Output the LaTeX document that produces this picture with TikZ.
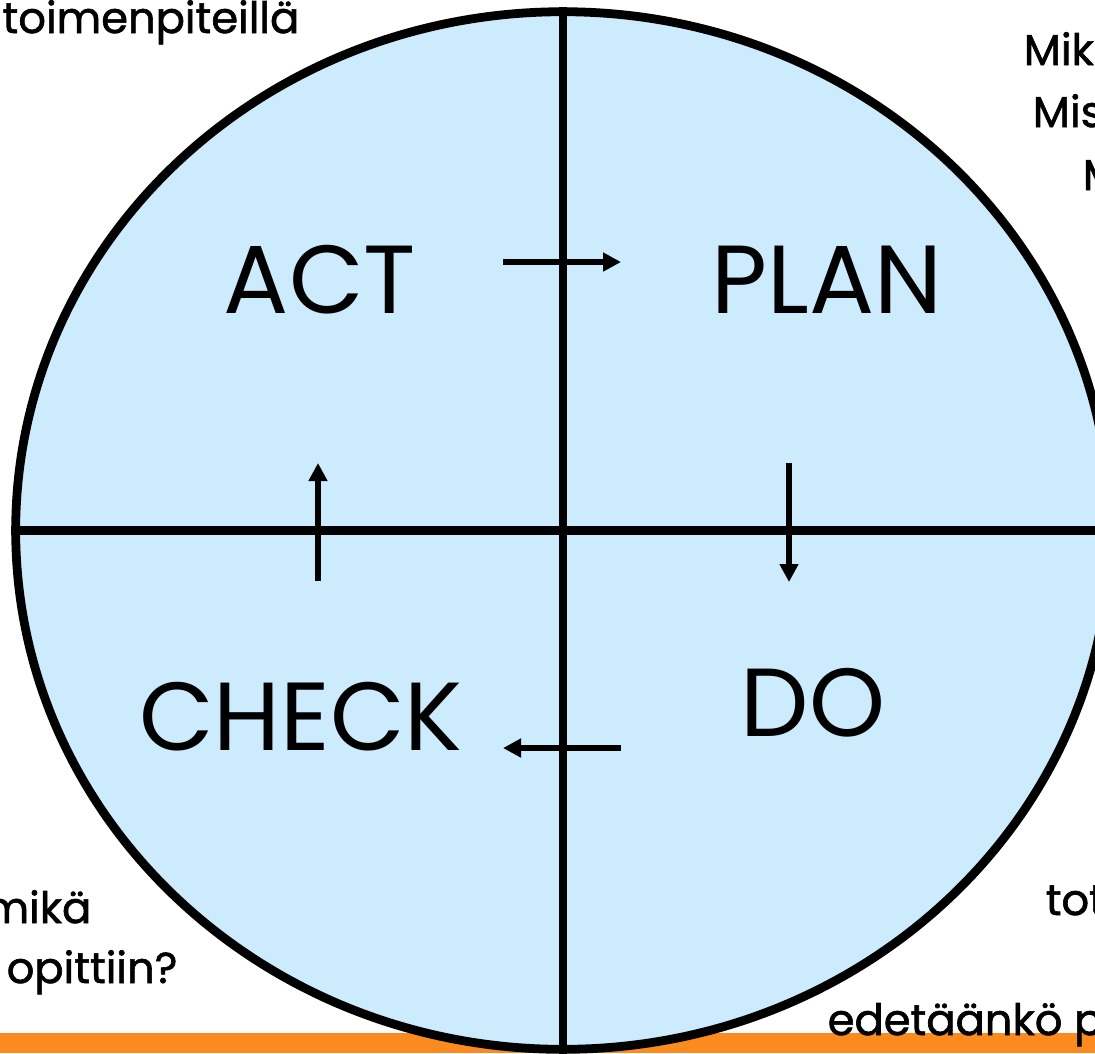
\documentclass[tikz,border=0pt]{standalone}
\usepackage{fontspec}
\setmainfont{Poppins}
\newfontfamily\notefont[FakeBold=1.4]{Poppins}
\usetikzlibrary{shapes.geometric}
\usetikzlibrary{arrows.meta}
\definecolor{cyclefill}{HTML}{CCEBFD}
\definecolor{barorange}{HTML}{FB8B1F}
\tikzset{
  phase label/.style={font=\fontsize{27.5}{33}\selectfont, inner sep=0pt},
  side text/.style={font=\notefont\fontsize{12.3}{15}\selectfont, inner sep=0pt},
  cycle arrow/.style={line width=1.7pt, -{Triangle[length=0.18cm, width=0.18cm]}},
  divider/.style={line width=2.5pt},
}

\begin{document}
\begin{tikzpicture}[x=0.01cm, y=-0.01cm]
  \useasboundingbox (0,0) rectangle (1095,1053);
  \clip (0,0) rectangle (1095,1053);

  % Bar at the bottom
  \fill[barorange] (0,1033) rectangle (1095,1053);

  % Define nodes
  \node[ellipse, draw, line width=2.5pt, fill=cyclefill, inner sep=0pt,
        minimum width=10.94cm, minimum height=10.37cm] (cycle) at (563,530.5) {};

  \node[phase label] (act) at (320,280) {ACT};
  \node[phase label] (plan) at (827,280) {PLAN};
  \node[phase label] (check) at (301,717) {CHECK};
  \node[phase label] (do) at (813,703) {DO};

  \coordinate (act_tail) at (503,262);
  \coordinate (plan_tip) at (621,262);
  \coordinate (plan_tail) at (789,463);
  \coordinate (do_tip) at (789,582);
  \coordinate (do_tail) at (621,748);
  \coordinate (check_tip) at (503,748);
  \coordinate (check_tail) at (318,581);
  \coordinate (act_tip) at (318,463);

  % Connect nodes
  \draw[divider] (cycle.north) -- (cycle.south);
  \draw[divider] (cycle.west) -- (cycle.east);

  \draw[cycle arrow] (act_tail) -- (plan_tip);
  \draw[cycle arrow] (plan_tail) -- (do_tip);
  \draw[cycle arrow] (do_tail) -- (check_tip);
  \draw[cycle arrow] (check_tail) -- (act_tip);

  % Texts round the circle
  \node[side text, anchor=base east] (act_note) at (300,33) {toimenpiteillä};
  \node[side text, anchor=base west] (plan_note1) at (1023,65) {Mik};
  \node[side text, anchor=base west] (plan_note2) at (1032,127) {Mis};
  \node[side text, anchor=base west] (plan_note3) at (1082,190) {M};
  \node[side text, anchor=base east] (check_note1) at (92,923) {mikä};
  \node[side text, anchor=base west] (check_note2) at (6,983) {opittiin?};
  \node[side text, anchor=base west] (do_note1) at (1045,915) {tot};
  \node[side text, anchor=base west] (do_note2) at (827,1035) {edetäänkö p};

\end{tikzpicture}
\end{document}
